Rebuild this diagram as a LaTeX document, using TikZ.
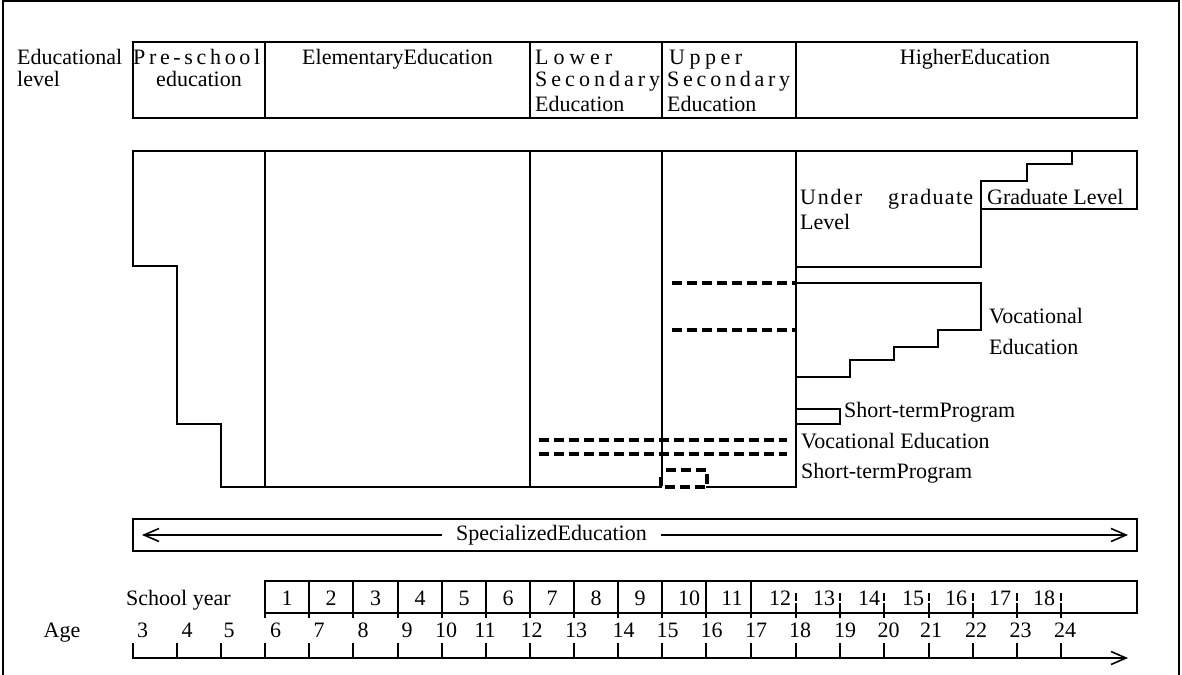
\documentclass[tikz,border=0pt]{standalone}
\usepackage{fontspec}
\setmainfont{Liberation Serif}
\usetikzlibrary{arrows.meta}
\begin{document}
\begin{tikzpicture}[x=1pt,y=-1pt,
  ln/.style={line width=1.6pt,line cap=rect},
  frame/.style={line width=2pt},
  dsh/.style={line width=4pt,dash pattern=on 10pt off 5pt},
  txt/.style={inner sep=0pt,font=\fontsize{22}{26}\selectfont},
  arr/.style={line width=1.6pt,-{Straight Barb[length=15pt,width=13pt,line width=1.6pt]}},
  lbl/.style={txt,anchor=base west},
  cbl/.style={txt,anchor=base}]
\useasboundingbox (0,0) rectangle (1182,674);
% outer frame
\draw[frame] (3,680) -- (3,1) -- (1179,1) -- (1179,680);
% header table
\draw[ln] (133,42) rectangle (1137,118);
\foreach \x in {265,530,662,796} \draw[ln] (\x,42) -- (\x,118);
\node[lbl] (ed1) at (17,65) {Educational};
\node[lbl] (ed2) at (17,87) {level};
\node[lbl] (pre1) at (133,65) {\makebox[127pt][s]{P\hfil r\hfil e\hfil -\hfil s\hfil c\hfil h\hfil o\hfil o\hfil l}};
\node[cbl] (pre2) at (199,87) {education};
\node[cbl] (elem) at (397.5,65) {ElementaryEducation};
\node[lbl] (low1) at (535,65) {\makebox[77pt][s]{L\hfil o\hfil w\hfil e\hfil r}};
\node[lbl] (low2) at (535,87) {\makebox[125pt][s]{S\hfil e\hfil c\hfil o\hfil n\hfil d\hfil a\hfil r\hfil y}};
\node[lbl] (low3) at (535,112) {Education};
\node[lbl] (up1) at (669,65) {\makebox[73pt][s]{U\hfil p\hfil p\hfil e\hfil r}};
\node[lbl] (up2) at (667,87) {\makebox[123pt][s]{S\hfil e\hfil c\hfil o\hfil n\hfil d\hfil a\hfil r\hfil y}};
\node[lbl] (up3) at (667,112) {Education};
\node[cbl] (high) at (975,65) {HigherEducation};
% main structure
\draw[ln] (1072,151) -- (133,151) -- (133,266) -- (177,266) -- (177,424) -- (221,424) -- (221,487) -- (661,487);
\draw[ln] (1072,151) -- (1137,151) -- (1137,209) -- (981,209);
\draw[ln] (1072,151) -- (1072,164) -- (1027,164) -- (1027,181) -- (981,181) -- (981,267) -- (796,267);
\draw[ln] (265,151) -- (265,487);
\draw[ln] (530,151) -- (530,487);
\draw[ln] (662,151) -- (662,476);
\draw[ln] (796,151) -- (796,487) -- (707,487);
% higher vocational steps
\draw[ln] (796,283) -- (981,283) -- (981,330) -- (938,330) -- (938,347) -- (894,347) -- (894,360) -- (850,360) -- (850,377) -- (796,377);
% short-term program box
\draw[ln] (796,409) -- (840,409) -- (840,424) -- (796,424);
% dashed lines
\draw[dsh] (672,283) -- (796,283);
\draw[dsh] (672,330) -- (796,330);
\draw[dsh] (539,440) -- (787,440);
\draw[dsh] (539,454) -- (787,454);
\draw[dsh] (666,470) -- (707,470) -- (707,487) -- (661,487) -- (661,477);
% labels in main area
\node[lbl] (ug1) at (800,204) {\makebox[62pt][s]{U\hfil n\hfil d\hfil e\hfil r}};
\node[lbl] (ug2) at (888,204) {\makebox[85pt][s]{g\hfil r\hfil a\hfil d\hfil u\hfil a\hfil t\hfil e}};
\node[lbl] (ug3) at (800,229) {Level};
\node[lbl] (grad) at (987,204) {Graduate Level};
\node[lbl] (voc1) at (989,323) {Vocational};
\node[lbl] (voc2) at (989,354) {Education};
\node[lbl] (stp1) at (844,417) {Short-termProgram};
\node[lbl] (voc3) at (801,448) {Vocational Education};
\node[lbl] (stp2) at (801,478) {Short-termProgram};
% specialized education
\draw[ln] (133,519) rectangle (1137,551);
\node[txt,inner xsep=14pt] (spec) at (551.5,535) {SpecializedEducation};
\coordinate (specL) at (142,535);
\coordinate (specR) at (1128,535);
\draw[arr] (spec.west) -- (specL);
\draw[arr] (spec.east) -- (specR);
% school year row
\node[lbl] (sy) at (126,605) {School year};
\draw[ln] (265,581) rectangle (1137,613);
\draw[ln] (265,613) -- (265,617);
\foreach \x in {309,353,398,442,486,530,574,618,662,706,751} \draw[ln] (\x,581) -- (\x,617);
\foreach \x in {796,840,884,929,973,1017,1061} {
  \draw[ln] (\x,594) -- (\x,600);
  \draw[ln] (\x,604) -- (\x,617);
}
\foreach \n/\x in {1/287,2/331,3/375.5,4/420,5/464,6/508,7/552,8/596,9/640,10/689,11/732,12/780,13/824,14/869,15/913,16/956,17/1000,18/1044}
  \node[cbl] (yr\n) at (\x,605) {\n};
% age row
\node[cbl] (age) at (62,637) {Age};
\foreach \a/\x in {3/142.5,4/187,5/229,6/275.5,7/319,8/363,9/407,10/446,11/485,12/531.5,13/576,14/623.5,15/667.5,16/711.5,17/756,18/800,19/845,20/888.5,21/931,22/976,23/1020.5,24/1065}
  \node[cbl] (ag\a) at (\x,637) {\a};
\coordinate (axL) at (133,658);
\coordinate (axR) at (1128,658);
\draw[arr] (axL) -- (axR);
\foreach \x in {133,177,221,265,309,353,398,442,486,530,574,618,662,706,751,796,840,884,929,973,1017,1061}
  \draw[ln] (\x,644) -- (\x,658);
\end{tikzpicture}
\end{document}
